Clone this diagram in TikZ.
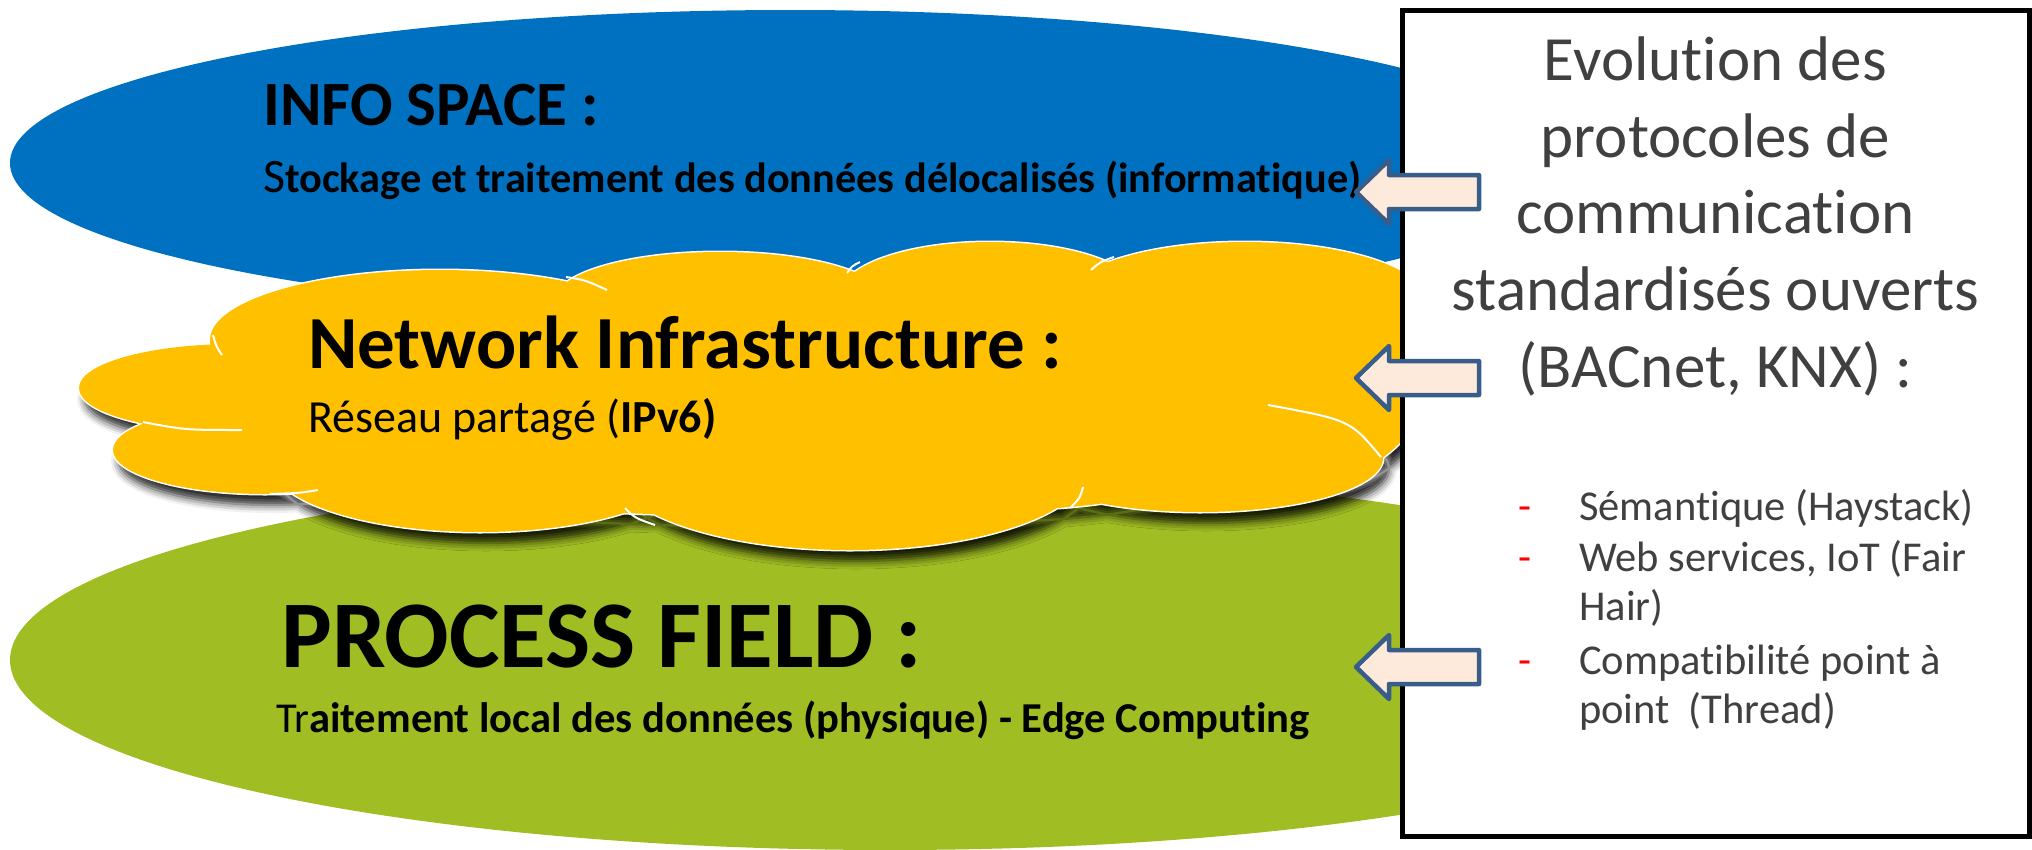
\documentclass[tikz,border=0pt]{standalone}
\usepackage{fontspec}
\setmainfont{Carlito}[Ligatures=NoCommon]
\usetikzlibrary{shadows.blur}
\definecolor{infoblue}{RGB}{0,112,192}
\definecolor{cloudyellow}{RGB}{255,192,0}
\definecolor{fieldgreen}{RGB}{160,189,35}
\definecolor{arrowfill}{RGB}{253,234,218}
\definecolor{arrowline}{RGB}{56,93,138}
\definecolor{txtgray}{RGB}{64,64,64}
\newcommand\fsz[1]{\fontsize{#1}{#1}\selectfont}
\newcommand\cloudshape{%
  (720,400) ellipse [x radius=520pt, y radius=115pt]
  (1000,400) ellipse [x radius=300pt, y radius=110pt]
  (440,340) ellipse [x radius=230pt, y radius=70pt]
  (720,300) ellipse [x radius=165pt, y radius=48pt]
  (990,295) ellipse [x radius=150pt, y radius=53pt]
  (1245,300) ellipse [x radius=180pt, y radius=58pt]
  (1310,370) ellipse [x radius=120pt, y radius=110pt]
  (1200,458) ellipse [x radius=183pt, y radius=54pt]
  (850,465) ellipse [x radius=240pt, y radius=85pt]
  (480,462) ellipse [x radius=210pt, y radius=70pt]
  (265,450) ellipse [x radius=152pt, y radius=44pt]
  (235,388) ellipse [x radius=156pt, y radius=44pt]}
\tikzset{
  lbl/.style={anchor=base west, inner sep=0pt, text=black},
  boxtxt/.style={anchor=base, inner sep=0pt, text=txtgray, font=\fsz{63}},
  listtxt/.style={anchor=base west, inner sep=0pt, text=txtgray, font=\fsz{42.5}},
  dashtxt/.style={anchor=base, inner sep=0pt, text=red, font=\fsz{42.5}},
  cloudline/.style={draw=white, line width=2pt},
  blockarr/.style={draw=arrowline, fill=arrowfill, line width=4.5pt, line join=round},
  leftarrow/.pic={\path[blockarr] (0,0) -- (33,-32) -- (33,-17) -- (123,-17) -- (123,17) -- (33,17) -- (33,32) -- cycle;}
}
\begin{document}
\begin{tikzpicture}[x=1pt,y=-1pt]
\useasboundingbox (0,0) rectangle (2032,849);
% layers
\fill[infoblue] (790,163) ellipse [x radius=780pt, y radius=153pt];
\fill[fieldgreen] (890,660) ellipse [x radius=880pt, y radius=190pt];
% cloud
\path[draw=white, line width=3pt, fill=white,
  blur shadow={shadow xshift=6pt, shadow yshift=-11pt, shadow blur radius=8pt, shadow opacity=85}] \cloudshape;
\fill[cloudyellow] \cloudshape;
\path[cloudline] (143,422) .. controls (185,430) .. (242,430);
\path[cloudline] (270,494) .. controls (300,493) .. (318,490);
\path[cloudline] (625,508) .. controls (635,518) .. (655,525);
\path[cloudline] (1083,487) .. controls (1080,498) .. (1070,508);
\path[cloudline] (1268,405) .. controls (1350,420) .. (1381,457);
\path[cloudline] (566,277) .. controls (585,280) .. (607,290);
\path[cloudline] (847,273) .. controls (852,266) .. (860,262);
\path[cloudline] (1091,270) .. controls (1100,262) .. (1114,257);
\path[cloudline] (213,335) .. controls (216,346) .. (222,355);
% texts
\node[lbl, font=\bfseries\fsz{63}] (infotitle) at (263,125) {INFO SPACE :};
\node[lbl, font=\bfseries\fsz{42.3}] (infosub) at (263,192) {{\mdseries\fsz{48}S}tockage et traitement des données délocalisés (informatique)};
\node[lbl, font=\bfseries\fsz{75}] (nettitle) at (308,368) {Network Infrastructure :};
\node[lbl, font=\fsz{46}] (netsub) at (308,432) {Réseau partagé (\textbf{IPv6)}};
\node[lbl, font=\bfseries\fsz{95.5}] (proctitle) at (281,667) {PROCESS FIELD :};
\node[lbl, font=\bfseries\fsz{42.6}] (procsub) at (276,732) {{\mdseries Tr}aitement local des données (physique) - Edge Computing};
% box
\node[draw=black, line width=5pt, fill=white, minimum width=627pt, minimum height=826pt, inner sep=0pt] (box) at (1715.5,423) {};
\node[boxtxt] (e1) at (1715.5,80) {Evolution des};
\node[boxtxt] (e2) at (1715.5,157) {protocoles de};
\node[boxtxt] (e3) at (1715.5,233) {communication};
\node[boxtxt] (e4) at (1715.5,310) {standardisés ouverts};
\node[boxtxt] (e5) at (1715.5,387) {(BACnet, KNX) :};
\node[dashtxt] (d1) at (1525,520) {-};
\node[dashtxt] (d2) at (1525,571) {-};
\node[dashtxt] (d3) at (1525,674) {-};
\node[listtxt] (l1) at (1579,520) {Sémantique (Haystack)};
\node[listtxt] (l2) at (1579,571) {Web services, IoT (Fair};
\node[listtxt] (l3) at (1579,620) {Hair)};
\node[listtxt] (l4) at (1579,674) {Compatibilité point à};
\node[listtxt] (l5) at (1579,723) {point\ \ (Thread)};
% arrows
\pic at (1356,192) {leftarrow};
\pic at (1356,378) {leftarrow};
\pic at (1356,667) {leftarrow};
\end{tikzpicture}
\end{document}
